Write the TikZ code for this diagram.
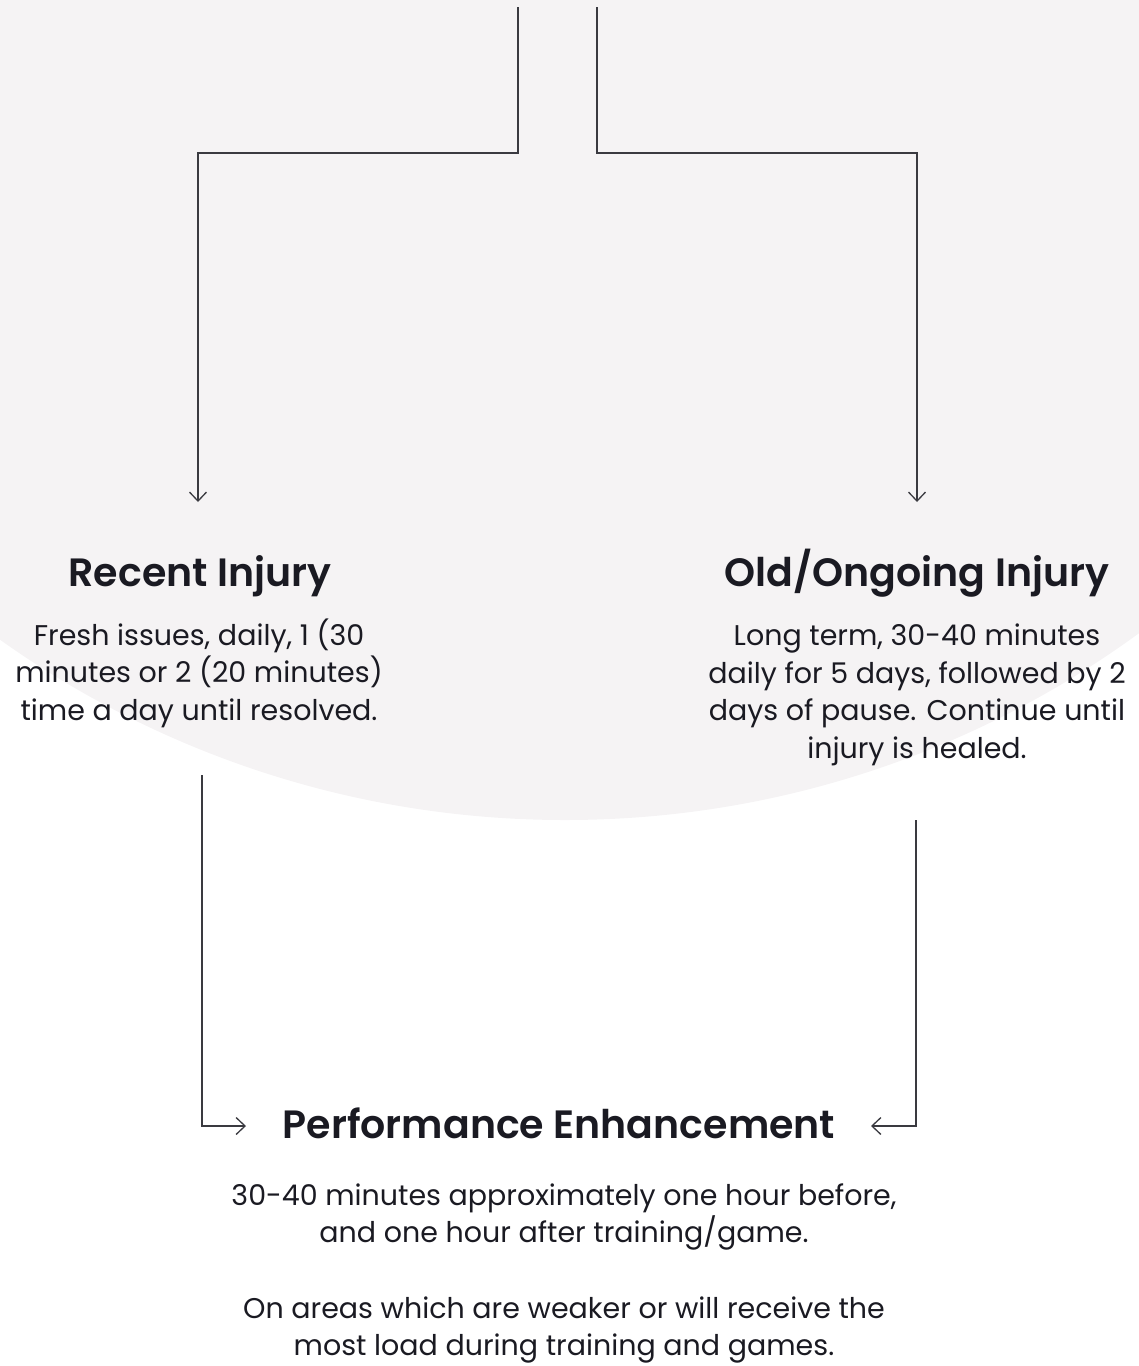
\documentclass[tikz,border=0pt]{standalone}
\usepackage{fontspec}
\setmainfont{Poppins}[BoldFont={Poppins SemiBold}]
\usetikzlibrary{arrows.meta}
\definecolor{bggray}{RGB}{245,243,244}
\definecolor{ink}{RGB}{26,26,34}
\definecolor{linec}{RGB}{58,58,64}
\tikzset{
  conn/.style={draw=linec, line width=1.3pt, -{Straight Barb[length=9pt,width=17pt,line width=1.3pt]}},
  titletext/.style={text=ink, font=\fontsize{39.5}{46}\selectfont\bfseries, inner sep=0pt, anchor=base},
  bodytext/.style={text=ink, font=\fontsize{28.5}{37.5}\selectfont, inner sep=0pt, align=center, anchor=base},
  bodytextb/.style={bodytext, font=\fontsize{28.5}{36.8}\selectfont},
}
\begin{document}
\begin{tikzpicture}[x=1pt,y=-1pt]
\useasboundingbox (0,0) rectangle (1139,1366);
\begin{scope}
\clip (0,0) rectangle (1139,1366);
\fill[bggray] (565,-155) circle (975pt);
\end{scope}
% titles
\node[titletext] (recent) at (200,586) {Recent Injury};
\node[titletext] (old) at (917,586) {Old/Ongoing Injury};
\node[titletext] (perf) at (559,1138) {Performance Enhancement};
% bodies (anchor = baseline of last line)
\node[bodytext] (recentb) at (199,720) {Fresh issues, daily, 1 (30\\minutes or 2 (20 minutes)\\time a day until resolved.};
\node[bodytext] (oldb) at (917,758) {Long term, 30-40 minutes\\daily for 5 days, followed by 2\\days of pause. Continue until\\injury is healed.};
\node[bodytextb] (perfb1) at (564,1242) {30-40 minutes approximately one hour before,\\and one hour after training/game.};
\node[bodytextb] (perfb2) at (564,1355) {On areas which are weaker or will receive the\\most load during training and games.};
% connector points
\coordinate (s1) at (518,7);
\coordinate (s2) at (597,7);
\coordinate (r1) at (198,502);
\coordinate (o1) at (917,502);
\coordinate (l1) at (202,775);
\coordinate (l2) at (916,820);
\coordinate (pl) at (246,1126);
\coordinate (pr) at (871,1126);
\draw[conn] (s1) -- (518,153) -| (r1);
\draw[conn] (s2) -- (597,153) -| (o1);
\draw[conn] (l1) |- (pl);
\draw[conn] (l2) |- (pr);
\end{tikzpicture}
\end{document}
